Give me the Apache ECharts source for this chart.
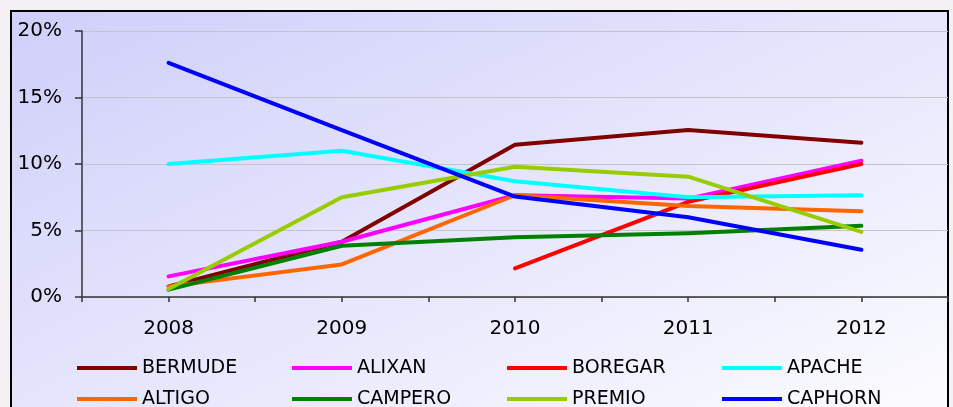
<!DOCTYPE html>
<html>
<head>
<meta charset="utf-8">
<script src="https://cdn.jsdelivr.net/npm/echarts@6/dist/echarts.min.js"></script>
<style>
html,body{margin:0;padding:0;background:#f4f0f4;}
#c{width:953px;height:407px;}
</style>
</head>
<body>
<div id="c"></div>
<script>
const years = [2008, 2009, 2010, 2011, 2012];
const yTicks = [0, 5, 10, 15, 20];
const names = ['BERMUDE', 'ALIXAN', 'BOREGAR', 'APACHE', 'ALTIGO', 'CAMPERO', 'PREMIO', 'CAPHORN'];
const colors = ['#800000', '#ff00ff', '#ff0000', '#00ffff', '#ff6600', '#008000', '#99cc00', '#0000ff'];
const BERMUDE = [0.8, 4.15, 11.45, 12.55, 11.6];
const ALIXAN = [1.55, 4.15, 7.65, 7.4, 10.25];
const BOREGAR = [null, null, 2.15, 7.15, 10.0];
const APACHE = [10.0, 11.0, 8.7, 7.5, 7.65];
const ALTIGO = [0.8, 2.45, 7.65, 6.85, 6.45];
const CAMPERO = [0.55, 3.85, 4.5, 4.8, 5.35];
const PREMIO = [0.6, 7.5, 9.8, 9.05, 4.9];
const CAPHORN = [17.6, 12.55, 7.55, 6.0, 3.55];
const values = [BERMUDE, ALIXAN, BOREGAR, APACHE, ALTIGO, CAMPERO, PREMIO, CAPHORN];

const chart = echarts.init(document.getElementById('c'));
const font = 'DejaVu Sans';
function legendRow(list, top) {
  return {
    data: list.map(n => ({name: n, icon: 'rect'})),
    left: 77, top: top, orient: 'horizontal',
    itemWidth: 60, itemHeight: 4, itemGap: 0, padding: 0,
    textStyle: {fontFamily: font, fontSize: 19, color: '#000', width: 150, lineHeight: 20}
  };
}
chart.setOption({
  animation: false,
  color: colors,
  graphic: [{
    type: 'rect', z: -100, silent: true,
    shape: {x: 11, y: 11, width: 937, height: 420},
    style: {
      fill: new echarts.graphic.LinearGradient(11, 11, 330, 704, [
        {offset: 0, color: '#cfcffa'},
        {offset: 1, color: '#fcfcff'}
      ], true),
      stroke: '#000', lineWidth: 2
    }
  }],
  grid: {left: 82, right: 5, top: 31, bottom: 110, containLabel: false},
  legend: [legendRow(names.slice(0, 4), 358), legendRow(names.slice(4), 389)],
  xAxis: {
    type: 'value', min: 2007.5, max: 2012.5, interval: 0.5,
    axisLine: {show: true, lineStyle: {color: '#333', width: 1.5}},
    axisTick: {show: true, length: 5, lineStyle: {color: '#333', width: 1.5}},
    splitLine: {show: false},
    axisLabel: {
      margin: 22, fontFamily: font, fontSize: 20, color: '#000',
      formatter: v => years.indexOf(v) >= 0 ? String(v) : ''
    }
  },
  yAxis: {
    type: 'value', min: yTicks[0], max: yTicks[yTicks.length - 1], interval: 5,
    axisLine: {show: true, lineStyle: {color: '#333', width: 1.5}},
    axisTick: {show: true, length: 7, lineStyle: {color: '#333', width: 1.5}},
    splitLine: {show: true, lineStyle: {color: '#c4c4c8', width: 1}},
    axisLabel: {margin: 20, fontFamily: font, fontSize: 20, color: '#000', formatter: '{value}%'}
  },
  series: names.map((n, i) => ({
    name: n, type: 'line', symbol: 'none', connectNulls: false,
    lineStyle: {width: 4, color: colors[i], cap: 'round', join: 'round'},
    itemStyle: {color: colors[i]},
    data: years.map((y, j) => [y, values[i][j]])
  }))
});
</script>
</body>
</html>
